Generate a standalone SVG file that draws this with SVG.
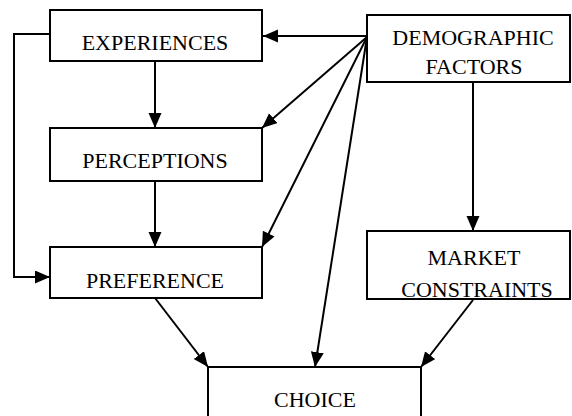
<svg xmlns="http://www.w3.org/2000/svg" width="572" height="416" viewBox="0 0 572 416">
<defs>
<marker id="ah" markerUnits="userSpaceOnUse" markerWidth="16" markerHeight="14" refX="15" refY="6.5" orient="auto">
<path d="M0,0 L15,6.5 L0,13 z" fill="#000"/>
</marker>
<style>
.box{fill:#fff;stroke:#000;stroke-width:2}
.lbl{font-family:"Liberation Serif","Times New Roman",serif;font-size:22px;fill:#000;text-anchor:middle}
.c{fill:none;stroke:#000;stroke-width:2;marker-end:url(#ah)}
</style>
</defs>
<rect width="572" height="416" fill="#fff"/>
<g id="connectors">
<line class="c" x1="367" y1="36" x2="263" y2="36"/>
<line class="c" x1="367" y1="37" x2="262" y2="128"/>
<line class="c" x1="367" y1="37" x2="262" y2="247"/>
<line class="c" x1="367" y1="37" x2="315" y2="367"/>
<line class="c" x1="155" y1="61" x2="155" y2="128"/>
<line class="c" x1="155" y1="181" x2="155" y2="247"/>
<polyline class="c" points="50,34 14,34 14,277 50,277"/>
<line class="c" x1="473" y1="82" x2="473" y2="231"/>
<line class="c" x1="155" y1="298" x2="208" y2="367"/>
<line class="c" x1="473" y1="300" x2="421" y2="367"/>
</g>
<g id="experiences">
<rect class="box" x="50" y="10" width="212" height="51"/>
<text class="lbl" x="155" y="50">EXPERIENCES</text>
</g>
<g id="demographic">
<rect class="box" x="367" y="15" width="203" height="67"/>
<text class="lbl" x="473" y="45">DEMOGRAPHIC</text>
<text class="lbl" x="474" y="74">FACTORS</text>
</g>
<g id="perceptions">
<rect class="box" x="50" y="128" width="212" height="53"/>
<text class="lbl" x="155" y="168">PERCEPTIONS</text>
</g>
<g id="preference">
<rect class="box" x="50" y="247" width="212" height="51"/>
<text class="lbl" x="155" y="288">PREFERENCE</text>
</g>
<g id="market">
<rect class="box" x="367" y="231" width="203" height="68"/>
<text class="lbl" x="474" y="265">MARKET</text>
<text class="lbl" x="477" y="297">CONSTRAINTS</text>
</g>
<g id="choice">
<rect class="box" x="208" y="367" width="213" height="60"/>
<text class="lbl" x="315" y="407">CHOICE</text>
</g>
</svg>
